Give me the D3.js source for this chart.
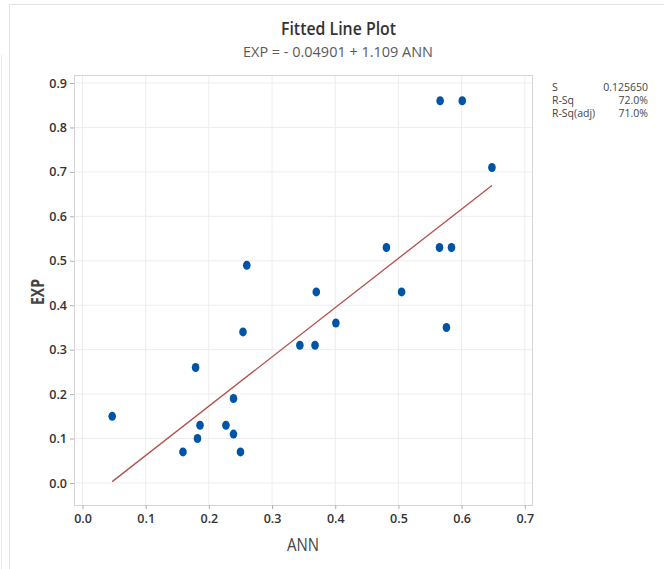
<!DOCTYPE html>
<html>
<head>
<meta charset="utf-8">
<script src="https://cdn.jsdelivr.net/npm/d3@7"></script>
<style>
  html, body { margin: 0; padding: 0; background: #fff; }
  svg { display: block; }
  text { font-family: "Open Sans", "Noto Sans", sans-serif; }
</style>
</head>
<body>
<svg id="chart" width="664" height="569"></svg>
<script>
// ---- data ----
const ann = [0.047, 0.159, 0.179, 0.182, 0.186, 0.227, 0.239, 0.239, 0.250, 0.254, 0.260,
             0.344, 0.368, 0.370, 0.401, 0.481, 0.505, 0.565, 0.566, 0.576, 0.584, 0.601, 0.648];
const exp = [0.15, 0.07, 0.26, 0.10, 0.13, 0.13, 0.19, 0.11, 0.07, 0.34, 0.49,
             0.31, 0.31, 0.43, 0.36, 0.53, 0.43, 0.53, 0.86, 0.35, 0.53, 0.86, 0.71];
const intercept = -0.04901;
const slope = 1.109;
const xTicks = [0, 0.1, 0.2, 0.3, 0.4, 0.5, 0.6, 0.7];
const yTicks = [0, 0.1, 0.2, 0.3, 0.4, 0.5, 0.6, 0.7, 0.8, 0.9];
const statLabels = ["S", "R-Sq", "R-Sq(adj)"];
const statValues = ["0.125650", "72.0%", "71.0%"];
const titleText = "Fitted Line Plot";
const subtitleText = "EXP = - 0.04901 + 1.109 ANN";

// ---- layout ----
const svg = d3.select("#chart");
const frame = { left: 74, top: 75, right: 532, bottom: 505 };
const x = d3.scaleLinear().domain([0, 0.7]).range([82.5, 524.8]);
const y = d3.scaleLinear().domain([0, 0.9]).range([483, 83]);

// outer panel borders
svg.append("line").attr("x1", 9.5).attr("x2", 9.5).attr("y1", 4.5).attr("y2", 569)
  .attr("stroke", "#e2e2e2").attr("stroke-width", 1);
svg.append("line").attr("x1", 9.5).attr("x2", 664).attr("y1", 4.5).attr("y2", 4.5)
  .attr("stroke", "#e2e2e2").attr("stroke-width", 1);
svg.append("line").attr("x1", 1.5).attr("x2", 1.5).attr("y1", 55).attr("y2", 569)
  .attr("stroke", "#ececec").attr("stroke-width", 1);

// gridlines
svg.append("g").selectAll("line").data(xTicks).join("line")
  .attr("x1", d => x(d)).attr("x2", d => x(d))
  .attr("y1", frame.top).attr("y2", frame.bottom)
  .attr("stroke", "#ededed").attr("stroke-width", 1);
svg.append("g").selectAll("line").data(yTicks).join("line")
  .attr("x1", frame.left).attr("x2", frame.right)
  .attr("y1", d => y(d)).attr("y2", d => y(d))
  .attr("stroke", "#ededed").attr("stroke-width", 1);

// frame
svg.append("rect")
  .attr("x", frame.left + 0.5).attr("y", frame.top + 0.5)
  .attr("width", frame.right - frame.left).attr("height", frame.bottom - frame.top)
  .attr("fill", "none").attr("stroke", "#d4d4d4").attr("stroke-width", 1);

// axes
const xAxis = svg.append("g").attr("transform", `translate(0,${frame.bottom})`)
  .call(d3.axisBottom(x).tickValues(xTicks).tickFormat(d3.format(".1f")).tickSize(4).tickPadding(5));
const yAxis = svg.append("g").attr("transform", `translate(${frame.left},0)`)
  .call(d3.axisLeft(y).tickValues(yTicks).tickFormat(d3.format(".1f")).tickSize(4).tickPadding(3));
[xAxis, yAxis].forEach(a => {
  a.select(".domain").remove();
  a.selectAll(".tick line").attr("stroke", "#b0b0b0");
  a.selectAll(".tick text").attr("fill", "#333").attr("font-size", 12.5)
    .attr("font-weight", 600).attr("font-family", '"Open Sans", sans-serif');
});

// fit line
const xmin = d3.min(ann), xmax = d3.max(ann);
svg.append("line")
  .attr("x1", x(xmin)).attr("y1", y(intercept + slope * xmin))
  .attr("x2", x(xmax)).attr("y2", y(intercept + slope * xmax))
  .attr("stroke", "#b5504b").attr("stroke-width", 1.3);

// points
svg.append("g").selectAll("ellipse").data(ann.map((a, i) => [a, exp[i]])).join("ellipse")
  .attr("cx", d => x(d[0])).attr("cy", d => y(d[1]))
  .attr("rx", 3.8).attr("ry", 4.5)
  .attr("fill", "#0054a6");

// titles
svg.append("text").attr("x", 338.5).attr("y", 35).attr("text-anchor", "middle")
  .attr("font-size", 18.5).attr("font-weight", 600).attr("fill", "#333")
  .attr("textLength", 115).attr("lengthAdjust", "spacingAndGlyphs")
  .text(titleText);
svg.append("text").attr("x", 338).attr("y", 57).attr("text-anchor", "middle")
  .attr("font-size", 15).attr("font-weight", 400).attr("fill", "#595959")
  .attr("textLength", 190).attr("lengthAdjust", "spacingAndGlyphs")
  .text(subtitleText);

// axis titles
svg.append("text").attr("x", 303).attr("y", 551).attr("text-anchor", "middle")
  .attr("font-size", 17.5).attr("fill", "#444")
  .attr("textLength", 32).attr("lengthAdjust", "spacingAndGlyphs")
  .text("ANN");
svg.append("text").attr("transform", "translate(44,292) rotate(-90)").attr("text-anchor", "middle")
  .attr("font-size", 17.5).attr("font-weight", 700).attr("fill", "#444")
  .attr("textLength", 26).attr("lengthAdjust", "spacingAndGlyphs")
  .text("EXP");

// stats
const stats = svg.append("g");
stats.selectAll("text.lab").data(statLabels).join("text").attr("class", "lab")
  .attr("x", 552).attr("y", (d, i) => 91 + i * 12.8)
  .attr("font-size", 10.5).attr("fill", "#444").text(d => d);
stats.selectAll("text.val").data(statValues).join("text").attr("class", "val")
  .attr("x", 648).attr("y", (d, i) => 91 + i * 12.8).attr("text-anchor", "end")
  .attr("font-size", 10.5).attr("fill", "#444").text(d => d);
</script>
</body>
</html>
